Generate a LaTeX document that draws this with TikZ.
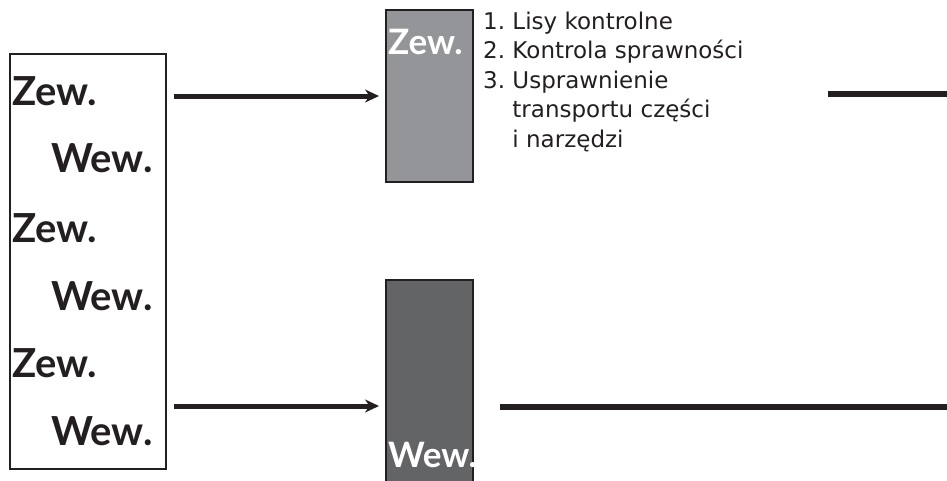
\documentclass[tikz,border=0pt]{standalone}
\usepackage{fontspec}
\setmainfont{Lato}
\newfontfamily\listfont{DejaVu Sans}
\usetikzlibrary{positioning, arrows.meta}

\definecolor{ink}{HTML}{231F20}
\definecolor{lightgr}{HTML}{939598}
\definecolor{darkgr}{HTML}{636466}

\begin{document}
\begin{tikzpicture}[x=1pt,y=-1pt]
    \tikzstyle{block} = [rectangle,draw=ink,line width=2pt,inner sep=0pt]
    \tikzstyle{big} = [inner sep=0pt,anchor=base west,text=ink,font=\fontsize{40}{40}\selectfont\bfseries]
    \tikzstyle{arrow} = [draw=ink,line width=5pt,-{Stealth[length=14pt,width=13pt]}]
    \tikzstyle{bar} = [draw=ink,line width=5.5pt]

    \clip (0,0) rectangle (947,480);

    % left column
    \node (sides) [block,minimum width=156pt,minimum height=415pt] at (88,261.5) {};
    \node (z1) [big] at (12,105) {Zew.};
    \node (w1) [big] at (51,172) {Wew.};
    \node (z2) [big] at (12,242) {Zew.};
    \node (w2) [big] at (51,310) {Wew.};
    \node (z3) [big] at (12,377) {Zew.};
    \node (w3) [big] at (51,445) {Wew.};

    % upper box
    \node (outer) [block,fill=lightgr,minimum width=87pt,minimum height=172pt] at (429.5,96) {};
    \node (outerlbl) [big,text=white,font=\fontsize{35}{35}\selectfont\bfseries] at (388,54) {Zew.};
    \node (list) [anchor=north west,inner sep=0pt,align=left,text=ink,
        font=\listfont\fontsize{23}{29.6}\selectfont] at (483,11.5)
        {1.~Lisy kontrolne\\2.~Kontrola sprawności\\3.~Usprawnienie\\
         \hphantom{3.~}transportu części\\\hphantom{3.~}i narzędzi};
    \draw [arrow] ([xshift=7pt]sides.east |- outer.west) -- ([xshift=-6pt]outer.west);
    \coordinate (topfrom) at (828,94);
    \coordinate (topto) at (947,94);
    \draw [bar] (topfrom) -- (topto);

    % lower box
    \node (inner) [block,fill=darkgr,minimum width=87pt,minimum height=252pt] at (429.5,406) {};
    \node (innerlbl) [big,text=white,font=\fontsize{35}{35}\selectfont\bfseries] at (388,467) {Wew.};
    \draw [arrow] ([xshift=7pt]sides.east |- inner.west) -- ([xshift=-6pt]inner.west);
    \coordinate (lowfrom) at (500,407);
    \coordinate (lowto) at (947,407);
    \draw [bar] (lowfrom) -- (lowto);
\end{tikzpicture}
\end{document}
